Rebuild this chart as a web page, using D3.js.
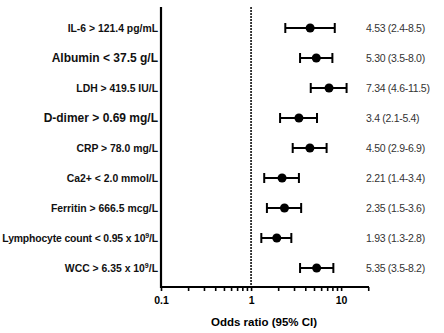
<!DOCTYPE html>
<html>
<head>
<meta charset="utf-8">
<script src="https://cdn.jsdelivr.net/npm/d3@7"></script>
<style>
  body { margin: 0; background: #fff; }
  svg { font-family: "Liberation Sans", Arial, sans-serif; }
</style>
</head>
<body>
<div id="chart"></div>
<script>
// data
const labels = [
  "IL-6 > 121.4 pg/mL",
  "Albumin < 37.5 g/L",
  "LDH > 419.5 IU/L",
  "D-dimer > 0.69 mg/L",
  "CRP > 78.0 mg/L",
  "Ca2+ < 2.0 mmol/L",
  "Ferritin > 666.5 mcg/L",
  "Lymphocyte count < 0.95 x 10|9|/L",
  "WCC > 6.35 x 10|9|/L"
];
const oddsRatio = [4.53, 5.30, 7.34, 3.4, 4.50, 2.21, 2.35, 1.93, 5.35];
const ciLow     = [2.4, 3.5, 4.6, 2.1, 2.9, 1.4, 1.5, 1.3, 3.5];
const ciHigh    = [8.5, 8.0, 11.5, 5.4, 6.9, 3.4, 3.6, 2.8, 8.2];
const orText    = ["4.53 (2.4-8.5)", "5.30 (3.5-8.0)", "7.34 (4.6-11.5)", "3.4 (2.1-5.4)",
                   "4.50 (2.9-6.9)", "2.21 (1.4-3.4)", "2.35 (1.5-3.6)", "1.93 (1.3-2.8)",
                   "5.35 (3.5-8.2)"];
const xTickLabels = [0.1, 1, 10];

// labels drawn a bit bigger in the original
const bigLabels = new Set(["Albumin < 37.5 g/L", "D-dimer > 0.69 mg/L"]);

const width = 444, height = 333;
const svg = d3.select("#chart").append("svg")
  .attr("width", width).attr("height", height);

const x = d3.scaleLog().domain([0.1, 20.4]).range([161, 369]);
const y = d3.scalePoint().domain(d3.range(labels.length)).range([28, 268]);
const yTop = 7, yBottom = 287;

// x axis with minor ticks
const minor = [];
[0.1, 1, 10].forEach(dec => { for (let k = 1; k <= 9; k++) { if (dec * k <= 20) minor.push(+(dec * k).toFixed(2)); } });
const xAxis = svg.append("g")
  .attr("transform", `translate(0,${yBottom})`)
  .call(d3.axisBottom(x).tickValues(minor).tickSize(4).tickSizeOuter(0)
    .tickFormat(d => xTickLabels.includes(d) ? String(d) : ""));
xAxis.select(".domain").attr("stroke", "#000").attr("stroke-width", 2.2)
  .attr("d", `M${x(0.1) - 1},0H${x.range()[1]}`);
xAxis.selectAll(".tick line").attr("stroke", "#000").attr("stroke-width", 1.6);
xAxis.selectAll(".tick text").attr("font-size", 10.5).attr("font-weight", "bold")
  .attr("fill", "#000").attr("dy", "0.95em");

// y axis line
svg.append("line")
  .attr("x1", x(0.1)).attr("x2", x(0.1))
  .attr("y1", yTop).attr("y2", yBottom + 1)
  .attr("stroke", "#000").attr("stroke-width", 2.2);

// reference line at 1
svg.append("line")
  .attr("x1", x(1)).attr("x2", x(1))
  .attr("y1", yTop).attr("y2", yBottom)
  .attr("stroke", "#000").attr("stroke-width", 1.5)
  .attr("stroke-dasharray", "2,1");

// row labels
const lab = svg.append("g").selectAll("text")
  .data(labels).enter().append("text")
  .attr("x", 158)
  .attr("y", (d, i) => y(i))
  .attr("dy", "0.35em")
  .attr("text-anchor", "end")
  .attr("font-weight", "bold")
  .attr("font-size", d => bigLabels.has(d) ? 12 : 10.4)
  .attr("letter-spacing", d => d.startsWith("Lymph") ? -0.15 : 0)
  .attr("fill", "#111");
lab.each(function(d) {
  const parts = d.split("|");
  const t = d3.select(this);
  parts.forEach((p, j) => {
    const s = t.append("tspan").text(p);
    if (j === 1) s.attr("font-size", 7).attr("dy", "-0.5em");
    if (j === 2) s.attr("dy", "0.33em");
  });
});

// error bars
const rows = svg.append("g").selectAll("g")
  .data(oddsRatio).enter().append("g");
rows.append("line")
  .attr("x1", (d, i) => x(ciLow[i])).attr("x2", (d, i) => x(ciHigh[i]))
  .attr("y1", (d, i) => y(i)).attr("y2", (d, i) => y(i))
  .attr("stroke", "#000").attr("stroke-width", 2);
rows.append("line")
  .attr("x1", (d, i) => x(ciLow[i])).attr("x2", (d, i) => x(ciLow[i]))
  .attr("y1", (d, i) => y(i) - 5).attr("y2", (d, i) => y(i) + 5)
  .attr("stroke", "#000").attr("stroke-width", 2);
rows.append("line")
  .attr("x1", (d, i) => x(ciHigh[i])).attr("x2", (d, i) => x(ciHigh[i]))
  .attr("y1", (d, i) => y(i) - 5).attr("y2", (d, i) => y(i) + 5)
  .attr("stroke", "#000").attr("stroke-width", 2);
rows.append("circle")
  .attr("cx", d => x(d)).attr("cy", (d, i) => y(i))
  .attr("r", 4.5).attr("fill", "#000");

// value text on the right
svg.append("g").selectAll("text")
  .data(orText).enter().append("text")
  .attr("x", 366)
  .attr("y", (d, i) => y(i))
  .attr("dy", "0.35em")
  .attr("font-size", 10.5)
  .attr("letter-spacing", -0.3)
  .attr("fill", "#333")
  .text(d => d);

// x axis title
svg.append("text")
  .attr("x", 264).attr("y", 326)
  .attr("text-anchor", "middle")
  .attr("font-weight", "bold")
  .attr("font-size", 11.5)
  .text("Odds ratio (95% CI)");
</script>
</body>
</html>
